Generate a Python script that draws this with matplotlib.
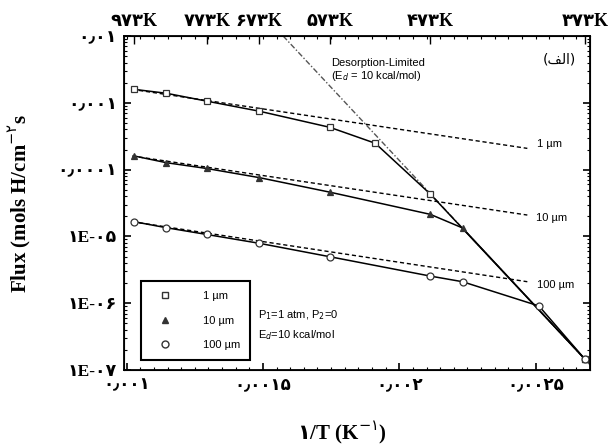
import matplotlib
matplotlib.use("Agg")
import matplotlib.pyplot as plt
from matplotlib.lines import Line2D
import numpy as np

# data: temperatures (K) of the points and flux values
temps_1um = [973, 873, 773, 673, 573, 523, 473, 373]
flux_1um = [1.59e-3, 1.39e-3, 1.06e-3, 7.5e-4, 4.3e-4, 2.48e-4, 4.3e-5, 1.46e-7]
temps_10um = [973, 873, 773, 673, 573, 473, 448, 373]
flux_10um = [1.6e-4, 1.27e-4, 1.04e-4, 7.6e-5, 4.6e-5, 2.14e-5, 1.34e-5, 1.46e-7]
temps_100um = [973, 873, 773, 673, 573, 473, 448, 398, 373]
flux_100um = [1.66e-5, 1.35e-5, 1.07e-5, 7.9e-6, 4.97e-6, 2.55e-6, 2.10e-6, 9.1e-7, 1.46e-7]

# diffusion-limited (dashed) lines, end points
dash_x = [0.00102, 0.00247]
dash_1um = [1.59e-3, 2.08e-4]
dash_10um = [1.6e-4, 2.09e-5]
dash_100um = [1.66e-5, 2.1e-6]

# desorption-limited line, end points
desorp_x = [0.001574, 0.0027]
desorp_flux = [1e-2, 1.2e-7]

top_temps = [973, 773, 673, 573, 473, 373]
top_labels = ["۹۷۳K", "۷۷۳K", "۶۷۳K", "۵۷۳K", "۴۷۳K", "۳۷۳K"]
x_ticks = [0.001, 0.0015, 0.002, 0.0025]
x_labels = ["۰٫۰۰۱", "۰٫۰۰۱۵", "۰٫۰۰۲", "۰٫۰۰۲۵"]
y_ticks = [1e-2, 1e-3, 1e-4, 1e-5, 1e-6, 1e-7]
y_labels = ["۰٫۰۱", "۰٫۰۰۱", "۰٫۰۰۰۱", "۱E-۰۵", "۱E-۰۶", "۱E-۰۷"]

bold_fam = ["Liberation Serif", "DejaVu Sans"]
sans = "Liberation Sans"
small = 8

fig = plt.figure(figsize=(6.13, 4.48), dpi=100)
ax = fig.add_axes([0.2023, 0.174, 0.7602, 0.7456])

inv = lambda t: 1.0 / np.asarray(t, dtype=float)

ax.plot(desorp_x, desorp_flux, color="#555555", lw=1.0, linestyle=(0, (4, 1.5, 1, 1.5)))
for ys in (dash_1um, dash_10um, dash_100um):
    ax.plot(dash_x, ys, color="black", lw=1.0, linestyle=(0, (3, 2)))

ax.plot(inv(temps_1um), flux_1um, color="black", lw=1.1, marker="s", ms=5,
        mfc="white", mec="#333333", mew=0.9)
ax.plot(inv(temps_10um), flux_10um, color="black", lw=1.1, marker="^", ms=5,
        mfc="#333333", mec="#333333", mew=0.9)
ax.plot(inv(temps_100um), flux_100um, color="black", lw=1.1, marker="o", ms=5,
        mfc="white", mec="#333333", mew=0.9)

ax.set_yscale("log")
ax.set_xlim(0.00099, 0.0027)
ax.set_ylim(1e-7, 1e-2)

ax.set_xticks(x_ticks)
ax.set_xticklabels(x_labels, family=bold_fam, fontweight="bold", fontsize=12)
ax.set_xticks(np.arange(0.001, 0.0027, 0.00005), minor=True)
ax.set_yticks(y_ticks)
ax.set_yticklabels(y_labels, family=bold_fam, fontweight="bold", fontsize=12.5)
ax.tick_params(which="both", direction="in", top=False, right=True)
ax.tick_params(which="major", length=5, width=1.2, pad=5)
ax.tick_params(which="minor", length=2.5, width=0.8)
for s in ax.spines.values():
    s.set_linewidth(1.3)

top = ax.twiny()
top.set_xlim(ax.get_xlim())
top.set_xticks(inv(top_temps))
top.set_xticklabels(top_labels, family=bold_fam, fontweight="bold", fontsize=13)
top.set_xticks(np.arange(0.001, 0.0027, 0.00005), minor=True)
top.tick_params(which="both", direction="in")
top.tick_params(which="major", length=6, width=1.0, pad=4)
top.tick_params(which="minor", length=2.5, width=0.8)

ax.set_ylabel("Flux (mols H/cm$^{-۲}$s", family=bold_fam, fontweight="bold",
              fontsize=15)
ax.yaxis.set_label_coords(-0.195, 0.5)
ax.set_xlabel("$\\mathbf{۱}$/T (K$^{-۱}$)", family=bold_fam, fontweight="bold",
              fontsize=15)
ax.xaxis.set_label_coords(0.468, -0.15)

ax.text(0.00175, 3.9e-3, "Desorption-Limited", family=sans, fontsize=small, va="center")
ax.text(0.00175, 2.5e-3, "(E$_d$ = 10 kcal/mol)", family=sans, fontsize=small, va="center")
ax.text(0.002526, 4.4e-3, "(\uFED2\uFEDF\uFE8D)", family=["DejaVu Sans"], fontsize=10,
        va="center")
ax.text(0.002507, 2.4e-4, "1 µm", family=sans, fontsize=small, va="center")
ax.text(0.0025, 1.88e-5, "10 µm", family=sans, fontsize=small, va="center")
ax.text(0.002507, 1.87e-6, "100 µm", family=sans, fontsize=small, va="center")
ax.text(0.001482, 6.65e-7, "P$_1$=1 atm, P$_2$=0", family=sans, fontsize=small, va="center")
ax.text(0.001482, 3.34e-7, "E$_d$=10 kcal/mol", family=sans, fontsize=small, va="center")

handles = [
    Line2D([], [], ls="none", marker="s", ms=5, mfc="white", mec="#333333"),
    Line2D([], [], ls="none", marker="^", ms=5, mfc="#333333", mec="#333333"),
    Line2D([], [], ls="none", marker="o", ms=5, mfc="white", mec="#333333"),
]
leg = ax.legend(handles, ["1 µm", "10 µm", "100 µm"], loc="lower left",
                bbox_to_anchor=(0.036, 0.03), prop={"family": sans, "size": small},
                fancybox=False, framealpha=1, edgecolor="black", handlelength=2.5,
                handletextpad=2.2, labelspacing=1.3, borderpad=0.9, borderaxespad=0)
leg.get_frame().set_linewidth(1.5)

fig.savefig("out.png", dpi=100)
